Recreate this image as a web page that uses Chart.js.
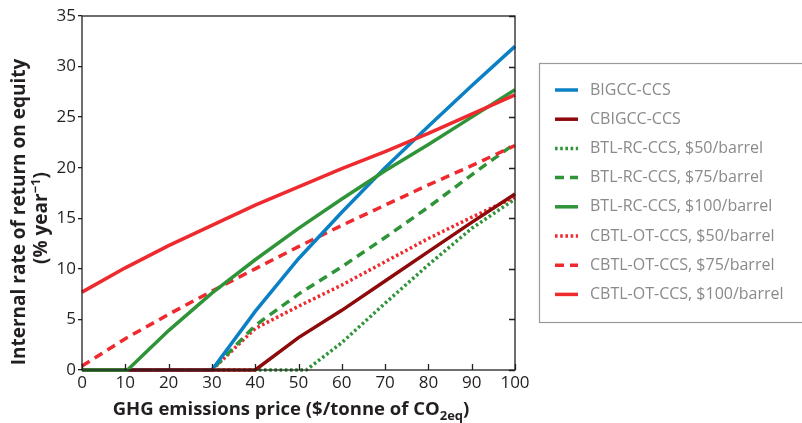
<!DOCTYPE html>
<html>
<head>
<meta charset="utf-8">
<script src="https://cdn.jsdelivr.net/npm/chart.js@4.4.1/dist/chart.umd.min.js"></script>
<style>
  html, body { margin: 0; padding: 0; background: #fff; }
  #wrap { width: 802px; height: 423px; position: relative; }
</style>
</head>
<body>
<div id="wrap"><canvas id="irrChart" width="802" height="423"></canvas></div>
<script>
// IRR on equity vs. GHG emissions price, [price, irr] pairs per plant type
const bigccCcs = [[0, 0], [30, 0], [40, 5.8], [50, 11.0], [60, 15.6], [70, 20.0], [80, 24.1], [90, 28.1], [100, 32.0]];
const cbigccCcs = [[0, 0], [40, 0], [50, 3.2], [60, 5.9], [70, 8.8], [80, 11.7], [90, 14.6], [100, 17.4]];
const btlRc50 = [[0, 0], [51.8, 0], [60, 2.7], [70, 6.6], [80, 10.4], [90, 14.0], [100, 16.9]];
const btlRc75 = [[0, 0], [30, 0], [40, 4.4], [50, 7.5], [60, 10.2], [70, 13.1], [80, 16.1], [90, 19.3], [100, 22.4]];
const btlRc100 = [[0, 0], [10.5, 0], [20, 3.9], [30, 7.6], [40, 10.9], [50, 14.0], [60, 16.9], [70, 19.7], [80, 22.3], [90, 25.0], [100, 27.7]];
const cbtlOt50 = [[0, 0], [30, 0], [40, 4.1], [50, 6.3], [60, 8.4], [70, 10.7], [80, 13.0], [90, 15.1], [100, 17.1]];
const cbtlOt75 = [[0, 0.4], [10, 3.1], [20, 5.5], [30, 7.8], [40, 10.0], [50, 12.2], [60, 14.3], [70, 16.3], [80, 18.3], [90, 20.2], [100, 22.2]];
const cbtlOt100 = [[0, 7.7], [10, 10.1], [20, 12.3], [30, 14.3], [40, 16.3], [50, 18.1], [60, 19.9], [70, 21.6], [80, 23.4], [90, 25.3], [100, 27.2]];

const seriesLabels = ['BIGCC-CCS', 'CBIGCC-CCS', 'BTL-RC-CCS, $50/barrel', 'BTL-RC-CCS, $75/barrel',
  'BTL-RC-CCS, $100/barrel', 'CBTL-OT-CCS, $50/barrel', 'CBTL-OT-CCS, $75/barrel', 'CBTL-OT-CCS, $100/barrel'];
const seriesData = [bigccCcs, cbigccCcs, btlRc50, btlRc75, btlRc100, cbtlOt50, cbtlOt75, cbtlOt100];

const xTicks = [0, 10, 20, 30, 40, 50, 60, 70, 80, 90, 100];
const yTicks = [0, 5, 10, 15, 20, 25, 30, 35];

const BLUE = '#0b80c4', DARKRED = '#8e0a0a', GREEN = '#2f9438', RED = '#ee2a2f';
const DOT = [2.6, 2.6], DASH = [9, 6];
const styles = [
  { color: BLUE, dash: [] },
  { color: DARKRED, dash: [] },
  { color: GREEN, dash: DOT },
  { color: GREEN, dash: DASH },
  { color: GREEN, dash: [] },
  { color: RED, dash: DOT },
  { color: RED, dash: DASH },
  { color: RED, dash: [] }
];

const INK = '#231f20';
const FONT = '"Open Sans", "DejaVu Sans", sans-serif';

// frame, inward ticks on bottom/right, axis titles with sub/superscripts, boxed legend
const decorPlugin = {
  id: 'decor',
  afterDraw(chart) {
    const { ctx, chartArea: a, scales } = chart;
    ctx.save();
    ctx.strokeStyle = INK;
    ctx.lineWidth = 1.3;
    ctx.strokeRect(a.left, a.top, a.right - a.left, a.bottom - a.top);

    ctx.beginPath();
    xTicks.forEach(v => {
      const px = Math.round(scales.x.getPixelForValue(v)) + 0.5;
      ctx.moveTo(px, a.bottom);
      ctx.lineTo(px, a.bottom - 6);
    });
    yTicks.forEach(v => {
      const py = Math.round(scales.y.getPixelForValue(v)) + 0.5;
      ctx.moveTo(a.right, py);
      ctx.lineTo(a.right - 6, py);
    });
    ctx.stroke();

    // x title with subscript
    ctx.fillStyle = INK;
    ctx.textBaseline = 'alphabetic';
    const big = 'bold 18.5px ' + FONT, small = 'bold 13px ' + FONT;
    const xa = 'GHG emissions price ($/tonne of CO', xs = '2eq', xb = ')';
    ctx.font = big; const wa = ctx.measureText(xa).width, wb = ctx.measureText(xb).width;
    ctx.font = small; const ws = ctx.measureText(xs).width;
    let x0 = 291 - (wa + ws + wb) / 2;
    const yb = 415;
    ctx.font = big; ctx.textAlign = 'left'; ctx.fillText(xa, x0, yb);
    ctx.font = small; ctx.fillText(xs, x0 + wa, yb + 5);
    ctx.font = big; ctx.fillText(xb, x0 + wa + ws, yb);

    // y title, two rotated lines
    const ybig = 'bold 19px ' + FONT;
    ctx.save();
    ctx.translate(0, 212);
    ctx.rotate(-Math.PI / 2);
    ctx.font = ybig; ctx.textAlign = 'center';
    ctx.fillText('Internal rate of return on equity', 0, 25);
    const ya = '(% year', ysup = '\u22121', yc = ')';
    const w1 = ctx.measureText(ya).width, w3 = ctx.measureText(yc).width;
    ctx.font = small; const w2 = ctx.measureText(ysup).width;
    const s0 = -(w1 + w2 + w3) / 2 - 6;
    ctx.textAlign = 'left';
    ctx.font = ybig; ctx.fillText(ya, s0, 47);
    ctx.font = small; ctx.fillText(ysup, s0 + w1, 40);
    ctx.font = ybig; ctx.fillText(yc, s0 + w1 + w2, 47);
    ctx.restore();

    // legend box
    ctx.strokeStyle = '#9a9a9a';
    ctx.lineWidth = 1.2;
    ctx.strokeRect(539.5, 63.5, 280, 259);
    ctx.font = '16px ' + FONT;
    ctx.textBaseline = 'middle';
    ctx.textAlign = 'left';
    chart.data.datasets.forEach((ds, i) => {
      const y = 90 + i * 29.2;
      ctx.strokeStyle = ds.borderColor;
      ctx.lineWidth = 3.5;
      ctx.setLineDash(ds.borderDash);
      ctx.beginPath();
      ctx.moveTo(555, y);
      ctx.lineTo(578, y);
      ctx.stroke();
      ctx.setLineDash([]);
      ctx.fillStyle = '#8a8a8a';
      ctx.fillText(ds.label, 590, y);
    });
    ctx.restore();
  }
};

new Chart(document.getElementById('irrChart'), {
  type: 'line',
  data: {
    datasets: seriesData.map((pts, i) => ({
      label: seriesLabels[i],
      data: pts.map(p => ({ x: p[0], y: p[1] })),
      borderColor: styles[i].color,
      borderDash: styles[i].dash,
      borderWidth: 3.5,
      pointRadius: 0,
      tension: 0,
      clip: 4,
      order: [4, 3, 8, 6, 2, 7, 5, 1][i]
    }))
  },
  options: {
    responsive: false,
    animation: false,
    layout: { padding: { top: 16, right: 287, left: 0, bottom: 0 } },
    plugins: { legend: { display: false }, tooltip: { enabled: false } },
    scales: {
      x: {
        type: 'linear', min: 0, max: 100,
        afterBuildTicks(s) { s.ticks = xTicks.map(v => ({ value: v })); },
        afterFit(s) { s.height = 53; },
        grid: { display: false, drawTicks: false },
        border: { display: false },
        ticks: { color: INK, font: { family: FONT, size: 17 }, padding: 3, maxRotation: 0 }
      },
      y: {
        min: 0, max: 35,
        afterBuildTicks(s) { s.ticks = yTicks.map(v => ({ value: v })); },
        afterFit(s) { s.width = 82; },
        grid: { drawOnChartArea: false, drawTicks: true, tickLength: 4, color: INK, lineWidth: 1.3 },
        border: { display: false },
        ticks: { color: INK, font: { family: FONT, size: 17 }, padding: 2 }
      }
    }
  },
  plugins: [decorPlugin]
});
</script>
</body>
</html>
